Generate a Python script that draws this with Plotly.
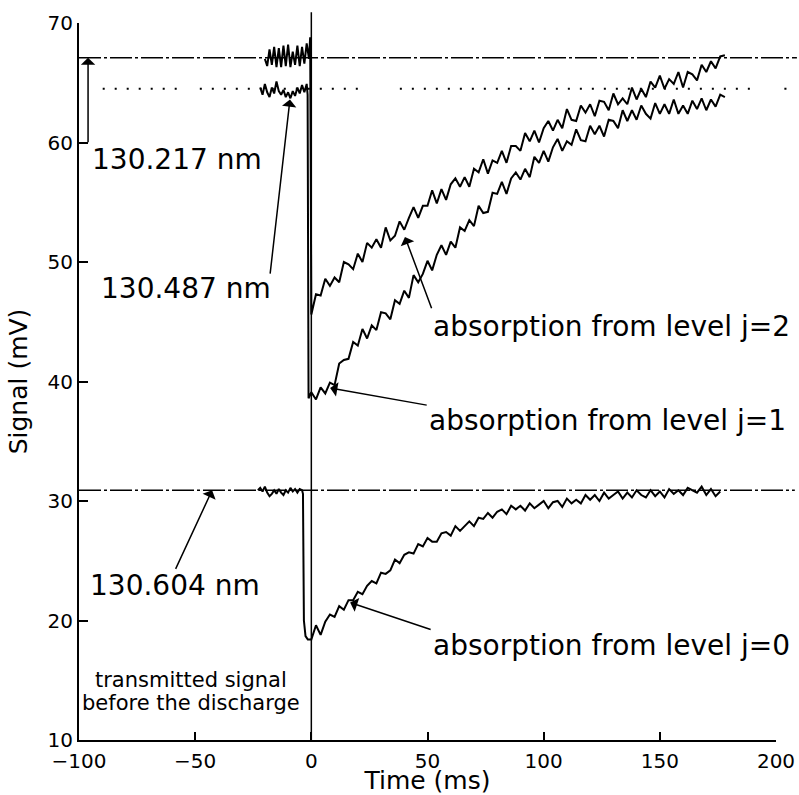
import plotly.graph_objects as go

# ---------------- data ----------------
# regular sampling grid after the discharge (ms)
t_post = [2 * i for i in range(90)]  # 0 ... 178 ms

# 130.217 nm  (absorption from level j=2)
t_pre_j2 = [-20, -19, -18, -17, -16, -15, -14, -13, -12, -11, -10, -9, -8, -7, -6,
            -5, -4, -3, -2, -1, -0.5]
v_pre_j2 = [67.0, 66.4, 67.8, 66.5, 68.0, 66.3, 67.9, 66.3, 68.1, 66.4, 68.2, 66.3,
            67.6, 66.5, 68.1, 66.4, 68.0, 66.6, 68.3, 67.0, 68.8]
v_post_j2 = [45.6, 47.3, 47.2, 48.6, 48.0, 48.7, 48.3, 50.0, 49.8, 49.4,
             50.7, 50.0, 51.6, 51.2, 51.9, 51.2, 52.9, 51.8, 52.2, 53.4,
             52.7, 53.7, 54.6, 53.7, 54.7, 54.7, 56.0, 54.9, 56.1, 55.2,
             56.5, 57.0, 56.3, 57.1, 56.3, 57.8, 57.5, 58.6, 57.4, 58.5,
             58.3, 59.3, 58.3, 59.7, 59.7, 59.3, 60.8, 60.1, 61.0, 60.0,
             61.2, 61.8, 61.0, 61.9, 61.2, 62.8, 61.9, 61.8, 63.1, 62.5,
             63.2, 62.2, 63.5, 63.4, 62.7, 64.1, 63.2, 63.7, 63.2, 64.6,
             63.6, 64.5, 63.8, 65.1, 64.6, 65.6, 64.5, 65.3, 64.9, 65.9,
             64.6, 65.9, 65.7, 65.2, 66.5, 65.9, 66.8, 66.2, 67.2, 67.3]

# 130.487 nm  (absorption from level j=1)
t_pre_j1 = [-22, -21, -20, -19, -18, -17, -16, -15, -14, -13, -12, -11, -10, -9,
            -8, -7, -6, -5, -4, -3, -2, -1.6, -1.2]
v_pre_j1 = [64.6, 64.0, 64.9, 64.2, 63.8, 64.6, 64.1, 65.1, 64.3, 64.0, 64.4, 63.8,
            64.2, 63.7, 64.3, 63.9, 64.6, 64.1, 64.8, 64.2, 64.9, 64.0, 38.6]
v_post_j1 = [39.1, 38.5, 39.5, 39.0, 39.9, 39.7, 41.5, 41.8, 41.9, 43.3,
             43.0, 44.4, 43.6, 44.7, 44.3, 45.8, 45.7, 45.2, 46.8, 46.5,
             47.6, 47.0, 48.9, 48.3, 49.0, 50.1, 49.3, 50.6, 51.4, 50.6,
             51.7, 51.2, 52.9, 52.6, 53.5, 53.0, 54.7, 54.1, 54.2, 55.8,
             55.7, 56.7, 55.7, 57.0, 57.5, 56.9, 57.8, 57.1, 58.8, 58.3,
             59.3, 58.4, 59.6, 60.3, 59.3, 60.1, 59.8, 61.1, 60.2, 60.1,
             61.4, 60.7, 61.4, 60.5, 61.9, 61.8, 61.2, 62.7, 61.8, 62.7,
             61.9, 63.1, 62.4, 62.0, 63.3, 62.4, 63.2, 62.4, 63.6, 62.4,
             63.1, 62.4, 63.5, 62.8, 63.7, 62.7, 63.6, 63.0, 64.0, 63.8]

# 130.604 nm  (absorption from level j=0)
t_pre_j0 = [-23, -22, -21, -20, -19, -18, -17, -16, -15, -14, -13, -12, -11, -10,
            -9, -8, -7, -6, -5, -4, -3.6, -3.2, -2.5, -1.5]
v_pre_j0 = [30.9, 31.1, 30.8, 31.2, 30.7, 30.4, 30.6, 30.9, 30.6, 31.0, 30.7, 30.5,
            30.9, 30.7, 31.1, 30.8, 31.0, 30.7, 31.0, 30.9, 30.6, 20.0, 18.7, 18.4]
v_post_j0 = [18.4, 19.6, 18.8, 19.9, 20.5, 20.3, 21.2, 20.9, 21.7, 21.7,
             22.4, 22.2, 22.9, 23.3, 23.1, 24.0, 23.9, 24.2, 25.1, 24.8,
             25.5, 25.7, 25.6, 26.4, 26.2, 26.9, 26.6, 26.6, 27.3, 27.4,
             27.1, 27.9, 27.5, 27.9, 28.3, 27.9, 28.6, 28.5, 29.0, 28.6,
             29.1, 29.3, 28.9, 29.6, 29.3, 29.6, 29.2, 29.8, 29.4, 29.7,
             30.0, 29.4, 29.9, 30.0, 29.5, 30.2, 29.8, 30.1, 29.8, 30.5,
             30.1, 30.5, 30.0, 30.7, 30.2, 30.5, 30.8, 30.2, 30.7, 30.3,
             30.9, 30.5, 30.3, 30.9, 30.4, 30.8, 30.3, 31.0, 30.6, 30.9,
             30.5, 31.1, 30.9, 30.7, 31.2, 30.5, 31.0, 30.4, 30.8]

# transmitted-signal levels before the discharge (mV)
level_217 = 67.1
level_487 = 64.5
level_604 = 30.9

x_ticks = [-100, -50, 0, 50, 100, 150, 200]
y_ticks = [10, 20, 30, 40, 50, 60, 70]

# ---------------- figure ----------------
fig = go.Figure()
line_style = dict(color="black", width=2)
series = [
    (t_pre_j2 + t_post, v_pre_j2 + v_post_j2),
    (t_pre_j1 + t_post, v_pre_j1 + v_post_j1),
    (t_pre_j0 + t_post[:len(v_post_j0)], v_pre_j0 + v_post_j0),
]
for tx, vy in series:
    fig.add_trace(go.Scatter(x=tx, y=vy, mode="lines", line=line_style,
                             hoverinfo="skip"))

dashdot = "22px,3px,3px,3px"
shapes = [
    # dash-dot reference levels, running past the right end of the axis
    dict(type="line", xref="paper", yref="y", x0=0, x1=1.03,
         y0=level_217, y1=level_217, layer="below",
         line=dict(color="black", width=1.5, dash=dashdot)),
    dict(type="line", xref="paper", yref="y", x0=0, x1=1.027,
         y0=level_604, y1=level_604, layer="below",
         line=dict(color="black", width=1.5, dash=dashdot)),
    # discharge marker at t = 0
    dict(type="line", xref="x", yref="paper", x0=0, x1=0, y0=0, y1=1.015,
         line=dict(color="black", width=1.5)),
]
# dotted level (drawn in pieces like the original)
for a, b in [(-89.8, -54.5), (-48.0, 23.8), (38.1, 192.1)]:
    shapes.append(dict(type="line", xref="x", yref="y", x0=a, x1=b,
                       y0=level_487, y1=level_487, layer="below",
                       line=dict(color="black", width=2, dash="2px,10px")))
shapes.append(dict(type="line", xref="paper", yref="y", x0=1.012, x1=1.015,
                   y0=level_487, y1=level_487, layer="below",
                   line=dict(color="black", width=2)))

annotations = []
text_labels = [
    ("130.217 nm", -58.0, 58.6, 28),
    ("130.487 nm", -53.9, 47.8, 28),
    ("130.604 nm", -58.7, 22.9, 28),
    ("absorption from level j=2", 129.2, 44.6, 28),
    ("absorption from level j=1", 127.5, 36.7, 28),
    ("absorption from level j=0", 129.0, 17.9, 28),
    ("transmitted signal", -52.0, 15.0, 21),
    ("before the discharge", -52.0, 13.1, 21),
]
for txt, x, y, s in text_labels:
    annotations.append(dict(text=txt, x=x, y=y, xref="x", yref="y",
                            showarrow=False, xanchor="center", yanchor="middle",
                            font=dict(family="DejaVu Sans", size=s, color="black")))

arrows = [
    (-96.1, 67.1, -96.1, 59.9),
    (-9.2, 63.6, -17.8, 48.9),
    (-42.7, 30.9, -58.7, 24.2),
    (40.3, 52.1, 52.0, 46.0),
    (8.1, 39.45, 50.3, 38.0),
    (16.7, 21.5, 52.0, 19.2),
]
for x, y, ax, ay in arrows:
    annotations.append(dict(text="", x=x, y=y, ax=ax, ay=ay,
                            xref="x", yref="y", axref="x", ayref="y",
                            showarrow=True, arrowhead=1, arrowsize=1.6,
                            arrowwidth=1.5, arrowcolor="black", standoff=0,
                            startstandoff=0))

fig.update_layout(
    width=799, height=795,
    margin=dict(l=79, r=23, t=23, b=55),
    paper_bgcolor="white", plot_bgcolor="white",
    showlegend=False,
    font=dict(family="DejaVu Sans", size=20, color="black"),
    shapes=shapes, annotations=annotations,
)
fig.update_xaxes(range=[-100, 200], tickvals=x_ticks, ticks="inside", ticklen=8,
                 tickwidth=2, tickcolor="black", showline=True, linewidth=2,
                 linecolor="black", showgrid=False, zeroline=False,
                 automargin=False, tickfont=dict(size=20), ticklabelstandoff=2,
                 title=dict(text="Time (ms)", font=dict(size=25), standoff=6))
fig.update_yaxes(range=[10, 70], tickvals=y_ticks, ticks="inside", ticklen=9,
                 tickwidth=2, tickcolor="black", showline=True, linewidth=2,
                 linecolor="black", showgrid=False, zeroline=False,
                 automargin=False, tickfont=dict(size=20),
                 title=dict(text="Signal (mV)", font=dict(size=25), standoff=13))

# the page body has an 8px default margin; remove it so the figure sits at (0, 0)
fig.write_html("out.html", config={"displayModeBar": False},
               post_script="document.body.style.margin='0';")
